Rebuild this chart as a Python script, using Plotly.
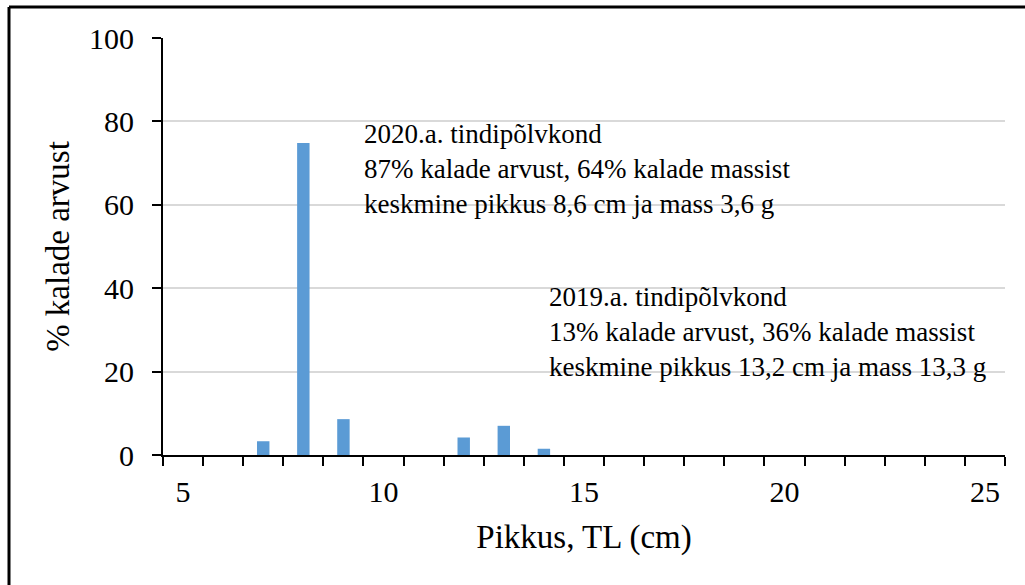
import plotly.graph_objects as go

lengths = list(range(5, 26))
pct = [0, 0, 3.3, 74.8, 8.6, 0, 0, 4.2, 7.0, 1.5, 0, 0, 0, 0, 0, 0, 0, 0, 0, 0, 0]
tick_labels = [str(v) if v % 5 == 0 else "" for v in lengths]
yticks = [0, 20, 40, 60, 80, 100]

note_2020 = "2020.a. tindipõlvkond<br>87% kalade arvust, 64% kalade massist<br>keskmine pikkus 8,6 cm ja mass 3,6 g"
note_2019 = "2019.a. tindipõlvkond<br>13% kalade arvust, 36% kalade massist<br>keskmine pikkus 13,2 cm ja mass 13,3 g"

FONT = "Liberation Serif"

fig = go.Figure(go.Bar(
    x=[str(v) for v in lengths], y=pct,
    marker=dict(color="#5b9bd5", line=dict(width=0)),
))

L, R, T, B = 163, 20, 38, 130
W, H = 1025, 585
pw, ph = W - L - R, H - T - B

def px(x):
    return (x - L) / pw

def py(y):
    return (H - B - y) / ph

fig.update_layout(
    width=W, height=H,
    margin=dict(l=L, r=R, t=T, b=B),
    paper_bgcolor="white", plot_bgcolor="white",
    bargap=0.69,
    showlegend=False,
    font=dict(family=FONT, color="#000000"),
    xaxis=dict(
        type="category",
        tickmode="array",
        tickvals=[str(v) for v in lengths],
        ticktext=tick_labels,
        tickson="boundaries",
        ticks="outside", ticklen=9, tickwidth=2, tickcolor="black",
        showline=True, linecolor="black", linewidth=2,
        showgrid=False,
        tickfont=dict(size=30, family=FONT),
        ticklabelstandoff=9,
        title=dict(text="Pikkus, TL (cm)", font=dict(size=33, family=FONT), standoff=18),
    ),
    yaxis=dict(
        range=[0, 100],
        tickmode="array", tickvals=yticks,
        ticks="outside", ticklen=9, tickwidth=2, tickcolor="black",
        showline=True, linecolor="black", linewidth=2,
        showgrid=True, gridcolor="#d9d9d9", gridwidth=2,
        zeroline=False,
        tickfont=dict(size=30, family=FONT),
        ticklabelstandoff=12,
        title=dict(text="% kalade arvust", font=dict(size=33, family=FONT), standoff=9),
    ),
    annotations=[
        dict(text=note_2020, xref="paper", yref="paper", x=px(362), y=py(117),
             xanchor="left", yanchor="top", align="left", showarrow=False,
             font=dict(size=27, family=FONT, color="black")),
        dict(text=note_2019, xref="paper", yref="paper", x=px(547), y=py(280),
             xanchor="left", yanchor="top", align="left", showarrow=False,
             font=dict(size=27, family=FONT, color="black")),
    ],
    shapes=[
        dict(type="line", xref="paper", yref="paper", x0=px(9), x1=px(1030),
             y0=py(7), y1=py(7), line=dict(color="black", width=3)),
        dict(type="line", xref="paper", yref="paper", x0=px(9), x1=px(9),
             y0=py(7), y1=py(590), line=dict(color="black", width=3)),
    ],
)

fig.write_html("out.html", config={"displayModeBar": False},
               post_script="document.body.style.margin='0';document.body.style.overflow='hidden';")
